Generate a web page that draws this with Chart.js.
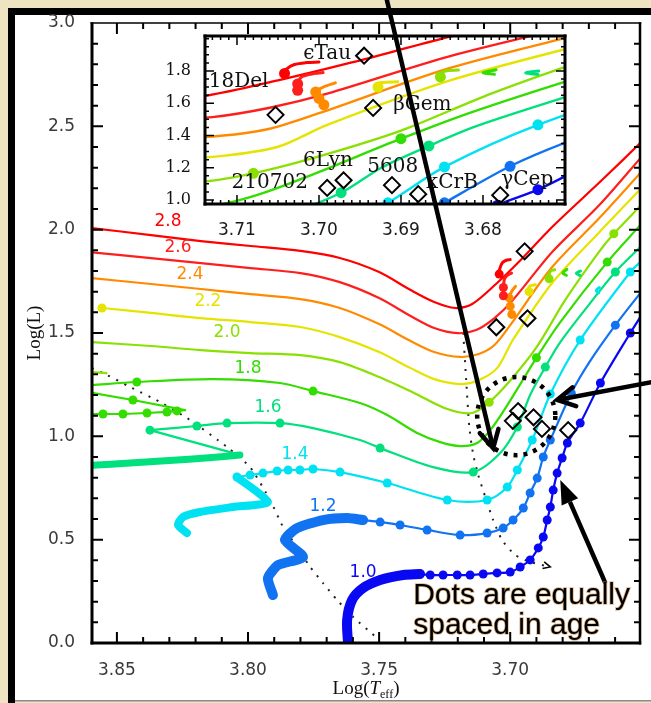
<!DOCTYPE html>
<html>
<head>
<meta charset="utf-8">
<title>Evolutionary tracks</title>
<script src="https://cdn.jsdelivr.net/npm/chart.js@4.4.1/dist/chart.umd.min.js"></script>
<style>
  html, body { margin: 0; padding: 0; background: #efe4c1; }
  #stage { position: relative; width: 651px; height: 703px; overflow: hidden; }
  #stage canvas { position: absolute; left: 0; top: 0; }
  #zoomChart { pointer-events: none; }
</style>
</head>
<body>
<div id="stage">
  <canvas id="hrChart" width="651" height="703"></canvas>
  <canvas id="zoomChart" width="651" height="703"></canvas>
</div>
<script>
// ---------- axes ----------
const X_RANGE = [3.6505, 3.8595];          // log Teff, hot side on the left
const Y_RANGE = [0.0, 3.0];                // log L
const xTickValues = [3.85, 3.80, 3.75, 3.70];
const yTickValues = [0.0, 0.5, 1.0, 1.5, 2.0, 2.5, 3.0];

const ZOOM_X_RANGE = [3.6700, 3.7139];
const ZOOM_Y_RANGE = [0.975, 2.017];
const zoomXTickValues = [3.71, 3.70, 3.69, 3.68];
const zoomYTickValues = [1.0, 1.2, 1.4, 1.6, 1.8];

// ---------- tracks: [log Teff, log L] ----------
const masses = ['2.8', '2.6', '2.4', '2.2', '2.0', '1.8', '1.6', '1.4', '1.2', '1.0'];
const massColors = ['#ff0000', '#ff1e1e', '#ff8a00', '#e4e400', '#8ae000', '#33dd00', '#00e07c', '#00e2f2', '#1173f2', '#0808f2'];

const track28 = [[3.860,2.008],[3.837,1.974],[3.818,1.945],[3.799,1.921],[3.780,1.897],[3.765,1.863],[3.750,1.795],[3.738,1.708],[3.729,1.650],[3.721,1.621],[3.7145,1.640],[3.705,1.742],[3.696,1.853],[3.684,2.013],[3.665,2.240],[3.650,2.424]];
const track26 = [[3.860,1.891],[3.837,1.862],[3.818,1.838],[3.799,1.814],[3.780,1.790],[3.765,1.746],[3.750,1.669],[3.738,1.582],[3.729,1.524],[3.720,1.499],[3.713,1.514],[3.706,1.572],[3.699,1.659],[3.684,1.892],[3.666,2.119],[3.650,2.351]];
const track24 = [[3.860,1.766],[3.837,1.737],[3.818,1.713],[3.799,1.688],[3.780,1.664],[3.765,1.621],[3.750,1.543],[3.738,1.461],[3.729,1.408],[3.719,1.384],[3.712,1.398],[3.706,1.442],[3.700,1.538],[3.684,1.819],[3.666,2.056],[3.650,2.279]];
const track22 = [[3.8557,1.621],[3.837,1.597],[3.818,1.572],[3.799,1.553],[3.780,1.529],[3.765,1.480],[3.750,1.408],[3.738,1.330],[3.729,1.277],[3.719,1.253],[3.712,1.272],[3.705,1.330],[3.699,1.466],[3.684,1.742],[3.666,1.988],[3.650,2.200]];
const track20 = [[3.860,1.456],[3.837,1.437],[3.818,1.417],[3.799,1.403],[3.780,1.393],[3.765,1.359],[3.750,1.287],[3.7365,1.209],[3.724,1.132],[3.7145,1.113],[3.708,1.165],[3.700,1.270],[3.690,1.430],[3.679,1.660],[3.666,1.895],[3.6605,1.980],[3.650,2.120]];
const track18 = [[3.8595,1.248],[3.8424,1.263],[3.8134,1.277],[3.7878,1.258],[3.7752,1.219],[3.7573,1.161],[3.7469,1.103],[3.7355,1.016],[3.7267,0.972],[3.7191,0.953],[3.7126,0.968],[3.7076,1.030],[3.7011,1.151],[3.690,1.380],[3.6809,1.553],[3.663,1.843],[3.6504,2.022]];
const track16 = [[3.8374,1.030],[3.8195,1.050],[3.8080,1.064],[3.7878,1.064],[3.7752,1.040],[3.7573,0.982],[3.7496,0.943],[3.7294,0.851],[3.7141,0.827],[3.7038,0.919],[3.6973,1.045],[3.6924,1.200],[3.6866,1.335],[3.6809,1.456],[3.6698,1.640],[3.6599,1.795],[3.6504,1.916]];
const track14 = [[3.8042,0.803],[3.7992,0.813],[3.7943,0.822],[3.7889,0.832],[3.7847,0.837],[3.7802,0.837],[3.7752,0.842],[3.7649,0.827],[3.7469,0.774],[3.7240,0.692],[3.7088,0.692],[3.7011,0.755],[3.6973,0.837],[3.6916,0.982],[3.6847,1.205],[3.6733,1.466],[3.6542,1.795],[3.6504,1.843]];
const track12 = [[3.7561,0.595],[3.7496,0.585],[3.7420,0.571],[3.7317,0.547],[3.7191,0.522],[3.7088,0.532],[3.7027,0.556],[3.6989,0.595],[3.6950,0.653],[3.6924,0.726],[3.6897,0.798],[3.6874,0.900],[3.6847,0.982],[3.6767,1.209],[3.6698,1.359],[3.6599,1.538],[3.6504,1.693]];
const track10 = [[3.7344,0.334],[3.7305,0.329],[3.7256,0.329],[3.7202,0.329],[3.7153,0.329],[3.7103,0.334],[3.7050,0.339],[3.7000,0.343],[3.6962,0.368],[3.6924,0.402],[3.6893,0.460],[3.6874,0.513],[3.6859,0.595],[3.6847,0.658],[3.6836,0.740],[3.6821,0.822],[3.6802,0.895],[3.6782,0.968],[3.6733,1.064],[3.6656,1.258],[3.6542,1.500],[3.6504,1.577]];

// which vertices carry an age marker
const dots28 = [];
const dots26 = [];
const dots24 = [];
const dots22 = [0];
const dots20 = [10, 15];
const dots18 = [1, 4, 13, 15];
const dots16 = [0, 1, 2, 3, 6, 8, 10, 12, 15];
const dots14 = [0, 1, 2, 3, 4, 5, 6, 7, 8, 9, 10, 11, 12, 13, 14, 15, 16];
const dots12 = [0, 1, 2, 3, 4, 5, 6, 7, 8, 9, 10, 11, 12, 13, 15];
const dots10 = [0, 1, 2, 3, 4, 5, 6, 7, 8, 9, 10, 11, 12, 13, 14, 15, 16, 17, 18, 19, 20];

// pre-main-sequence pieces (densely sampled parts drawn as thick bands)
const stub20 = [[3.8595,1.311],[3.8540,1.306]];
const row18  = [[3.8595,1.108],[3.8553,1.108],[3.8477,1.108],[3.8385,1.113],[3.8309,1.118],[3.8271,1.123],[3.8240,1.127]];
const hook18 = [[3.8240,1.127],[3.8439,1.176],[3.8595,1.210]];
const band16 = [[3.8595,0.860],[3.845,0.871],[3.830,0.883],[3.815,0.896],[3.8031,0.910]];
const hook16 = [[3.8031,0.910],[3.8374,1.030]];
const band14 = [[3.8233,0.532],[3.8267,0.571],[3.8248,0.610],[3.8183,0.634],[3.8057,0.658],[3.7924,0.682],[3.8042,0.803]];
const band12 = [[3.7905,0.232],[3.7924,0.314],[3.7885,0.377],[3.7790,0.416],[3.7859,0.498],[3.7813,0.556],[3.7714,0.595],[3.7622,0.605],[3.7561,0.595]];
const band10 = [[3.7618,-0.010],[3.7622,0.111],[3.7603,0.208],[3.7561,0.266],[3.7496,0.305],[3.7408,0.329],[3.7344,0.334]];

// core helium burning loops
const clump28 = [[3.7042,1.785],[3.7040,1.810],[3.7030,1.840],[3.7015,1.852],[3.7000,1.855]];
const clump26 = [[3.7026,1.680],[3.7026,1.720],[3.7022,1.760],[3.7010,1.780],[3.6995,1.790]];
const clump24 = [[3.6994,1.590],[3.7000,1.630],[3.7004,1.670],[3.6995,1.700],[3.6980,1.726]];
const clump22 = [[3.6928,1.700],[3.6930,1.716],[3.6924,1.728],[3.6904,1.733]];
const clump20 = [[3.6852,1.763],[3.6852,1.780],[3.6846,1.800],[3.6830,1.806]];
const clump18 = [[3.6784,1.808],[3.6800,1.790],[3.6786,1.779]];
const clump16 = [[3.6732,1.800],[3.6748,1.789],[3.6733,1.778]];
const clump14 = [[3.6660,1.720],[3.6672,1.705],[3.6662,1.695]];

// dotted boundary lines
const dottedHot  = [[3.8595,1.330],[3.8538,1.297],[3.8450,1.239],[3.8336,1.166],[3.8221,1.079],[3.8080,0.948],[3.7992,0.851],[3.7916,0.692],[3.7866,0.561],[3.7813,0.464],[3.7763,0.368],[3.7714,0.290],[3.7660,0.208],[3.7599,0.126],[3.7508,0.024]];
const dottedCool = [[3.7179,1.500],[3.7168,1.272],[3.7156,1.045],[3.7141,0.910],[3.7122,0.813],[3.7095,0.706],[3.7065,0.595],[3.7031,0.498],[3.6981,0.426],[3.6924,0.392],[3.6847,0.368]];

// observed giants
const starNames = ['ϵTau', '18Del', 'βGem', '210702', '6Lyn', '5608', 'κCrB', 'γCep'];
const starTeff  = [3.6945, 3.7053, 3.6934, 3.6990, 3.6970, 3.6911, 3.6879, 3.6779];
const starLum   = [1.895, 1.528, 1.571, 1.075, 1.122, 1.092, 1.036, 1.030];
const starLabelTeff = [3.6990, 3.7098, 3.6874, 3.7060, 3.6989, 3.6910, 3.6838, 3.6746];
const starLabelLum  = [1.905, 1.732, 1.589, 1.105, 1.242, 1.205, 1.105, 1.124];

// mass labels
const massLabelTeff = [3.8305, 3.8267, 3.8221, 3.8153, 3.8080, 3.8000, 3.7924, 3.7821, 3.7714, 3.7561];
const massLabelLum  = [2.037, 1.911, 1.785, 1.650, 1.500, 1.330, 1.137, 0.910, 0.658, 0.343];

// annotations
const arrowFrom = [[3.7473, 3.125], [3.6458, 1.263], [3.6637, 0.290]];
const arrowTo   = [[3.7065, 0.943], [3.6821, 1.176], [3.6809, 0.789]];
const arrowHead = ['open', 'open', 'solid'];
const circleCenter = [3.6977, 1.098];
const circleRadius = 0.0149;               // in log Teff
const noteLines = ['Dots are equally', 'spaced in age'];
const noteAt = [[3.737, 0.189], [3.737, 0.044]];

// ---------- helpers ----------
const pts = arr => arr.map(([x, y]) => ({ x, y }));
function steps(lo, hi, step) {
  const out = [];
  for (let v = lo; v <= hi + 1e-9; v += step) out.push(+v.toFixed(4));
  return out;
}

function lineSet(data, color, width, dotIdx, dotR, tension) {
  return {
    data: pts(data),
    showLine: true,
    borderColor: color,
    backgroundColor: color,
    pointBackgroundColor: color,
    borderWidth: width,
    tension: tension,
    pointRadius: ctx => dotIdx.includes(ctx.dataIndex) ? dotR : 0,
    pointHoverRadius: 0,
    pointBorderWidth: 0,
    borderCapStyle: 'round',
    borderJoinStyle: 'round',
    clip: 0
  };
}

function starSet(r) {
  return {
    data: starTeff.map((t, i) => ({ x: t, y: starLum[i] })),
    showLine: false,
    pointStyle: 'rectRot',
    pointRadius: r,
    pointHoverRadius: r,
    pointBorderColor: '#000',
    pointBackgroundColor: 'rgba(0,0,0,0)',
    pointBorderWidth: 2,
    clip: 0
  };
}

const tracks = [track28, track26, track24, track22, track20, track18, track16, track14, track12, track10];
const trackDots = [dots28, dots26, dots24, dots22, dots20, dots18, dots16, dots14, dots12, dots10];
const clumps = [clump28, clump26, clump24, clump22, clump20, clump18, clump16, clump14];
const clumpDots = [[0], [0, 1], [0, 1, 2], [0], [0], [], [], []];

function giantSets(lineW, dotR) {
  const sets = [starSet(8)];
  clumps.forEach((c, i) => sets.push(lineSet(c, massColors[i], 3, clumpDots[i], dotR, 0.3)));
  tracks.forEach((t, i) => sets.push(lineSet(t, massColors[i], lineW, trackDots[i], dotR, 0.3)));
  return sets;
}

const mainSets = giantSets(2.2, 4.5);
mainSets.push(
  lineSet(stub20, massColors[4], 2.2, [], 0, 0),
  lineSet(row18, massColors[5], 2.2, [1, 2, 3, 4, 5], 4.5, 0),
  lineSet(hook18, massColors[5], 2.2, [1], 4.5, 0),
  lineSet(hook16, massColors[6], 2.2, [], 0, 0),
  lineSet(band16, massColors[6], 7, [], 0, 0.2),
  lineSet(band14, massColors[7], 8, [], 0, 0.2),
  lineSet(band12, massColors[8], 10, [], 0, 0.2),
  lineSet(band10, massColors[9], 10, [], 0, 0.3)
);
[dottedHot, dottedCool].forEach(d => {
  const s = lineSet(d, '#222', 2, [], 0, 0.2);
  s.borderDash = [2, 7];
  s.borderCapStyle = 'butt';
  mainSets.push(s);
});

// ---------- plugins ----------
const panel = {
  id: 'panel',
  beforeDraw(chart) {
    const ctx = chart.ctx;
    ctx.save();
    ctx.fillStyle = '#efe4c1';
    ctx.fillRect(0, 0, chart.width, chart.height);
    ctx.fillStyle = '#000';
    ctx.fillRect(8, 8, chart.width - 8, 7);
    ctx.fillRect(8, 8, 7, chart.height - 8);
    ctx.fillStyle = '#fff';
    ctx.fillRect(15, 15, chart.width - 15, chart.height - 18);
    ctx.fillStyle = '#8a8a8a';
    ctx.fillRect(15, chart.height - 3, chart.width - 15, 1.5);
    ctx.restore();
  }
};

const whiteBox = {
  id: 'whiteBox',
  beforeDraw(chart) {
    const { ctx, chartArea: a } = chart;
    ctx.save();
    ctx.fillStyle = '#fff';
    ctx.fillRect(a.left, a.top, a.right - a.left, a.bottom - a.top);
    ctx.restore();
  }
};

const axisBox = {
  id: 'axisBox',
  afterDatasetsDraw(chart, _args, o) {
    const { ctx, chartArea: a, scales: { x, y } } = chart;
    ctx.save();
    ctx.strokeStyle = '#000';
    ctx.lineWidth = o.tickWidth;
    ctx.beginPath();
    const xt = (v, len) => {
      const p = x.getPixelForValue(v);
      ctx.moveTo(p, a.bottom); ctx.lineTo(p, a.bottom - len);
      ctx.moveTo(p, a.top); ctx.lineTo(p, a.top + len);
    };
    const yt = (v, len) => {
      const p = y.getPixelForValue(v);
      ctx.moveTo(a.left, p); ctx.lineTo(a.left + len, p);
      ctx.moveTo(a.right, p); ctx.lineTo(a.right - len, p);
    };
    o.xMinor.forEach(v => xt(v, o.minorLen));
    o.xMajor.forEach(v => xt(v, o.majorLen));
    o.yMinor.forEach(v => yt(v, o.minorLen));
    o.yMajor.forEach(v => yt(v, o.majorLen));
    ctx.stroke();
    const side = (w, x0, y0, x1, y1) => {
      ctx.lineWidth = w;
      ctx.beginPath(); ctx.moveTo(x0, y0); ctx.lineTo(x1, y1); ctx.stroke();
    };
    const [wl, wb, wt, wr] = o.sides;
    side(wl, a.left, a.top - wt / 2, a.left, a.bottom + wb / 2);
    side(wb, a.left - wl / 2, a.bottom, a.right + wr / 2, a.bottom);
    side(wt, a.left - wl / 2, a.top, a.right + wr / 2, a.top);
    side(wr, a.right, a.top - wt / 2, a.right, a.bottom + wb / 2);
    ctx.restore();
  }
};

const mainText = {
  id: 'mainText',
  afterDatasetsDraw(chart) {
    const { ctx, chartArea: a, scales: { x, y } } = chart;
    ctx.save();
    ctx.textAlign = 'center';
    ctx.textBaseline = 'middle';
    ctx.font = '17px "DejaVu Sans"';
    masses.forEach((m, i) => {
      ctx.fillStyle = massColors[i];
      ctx.fillText(m, x.getPixelForValue(massLabelTeff[i]), y.getPixelForValue(massLabelLum[i]));
    });
    // axis titles
    ctx.fillStyle = '#111';
    ctx.font = '19px "Liberation Serif"';
    ctx.save();
    ctx.translate(35, (a.top + a.bottom) / 2);
    ctx.rotate(-Math.PI / 2);
    ctx.fillText('Log(L)', 0, 0);
    ctx.restore();
    const parts = [
      ['Log(', '19px "Liberation Serif"', 0],
      ['T', 'italic 19px "Liberation Serif"', 0],
      ['eff', '12px "Liberation Serif"', 4],
      [')', '19px "Liberation Serif"', 0]
    ];
    let total = 0;
    parts.forEach(p => { ctx.font = p[1]; total += ctx.measureText(p[0]).width; });
    let cx = (a.left + a.right) / 2 - total / 2;
    ctx.textAlign = 'left';
    ctx.textBaseline = 'alphabetic';
    parts.forEach(p => {
      ctx.font = p[1];
      ctx.fillText(p[0], cx, 694 + p[2]);
      cx += ctx.measureText(p[0]).width;
    });
    ctx.restore();
  }
};

const starLabels = {
  id: 'starLabels',
  afterDatasetsDraw(chart) {
    const { ctx, scales: { x, y } } = chart;
    ctx.save();
    ctx.fillStyle = '#111';
    ctx.font = '20px "DejaVu Serif"';
    ctx.textAlign = 'center';
    ctx.textBaseline = 'middle';
    starNames.forEach((n, i) => {
      ctx.fillText(n, x.getPixelForValue(starLabelTeff[i]), y.getPixelForValue(starLabelLum[i]));
    });
    ctx.restore();
  }
};

let hr = null;

// arrows, ring and note sit above both panels
const notes = {
  id: 'notes',
  afterDraw(chart) {
    const ctx = chart.ctx;
    const sx = hr.scales.x, sy = hr.scales.y;
    const P = ([t, l]) => [sx.getPixelForValue(t), sy.getPixelForValue(l)];
    ctx.save();
    ctx.strokeStyle = '#000';
    ctx.fillStyle = '#000';

    arrowFrom.forEach((f, i) => {
      const [x0, y0] = P(f);
      const [x1, y1] = P(arrowTo[i]);
      const ang = Math.atan2(y1 - y0, x1 - x0);
      ctx.lineWidth = 4.5;
      ctx.lineCap = 'butt';
      if (arrowHead[i] === 'solid') {
        const len = 24, half = 9;
        const bx = x1 - len * Math.cos(ang), by = y1 - len * Math.sin(ang);
        ctx.beginPath(); ctx.moveTo(x0, y0); ctx.lineTo(bx, by); ctx.stroke();
        ctx.beginPath();
        ctx.moveTo(x1, y1);
        ctx.lineTo(bx + half * Math.sin(ang), by - half * Math.cos(ang));
        ctx.lineTo(bx - half * Math.sin(ang), by + half * Math.cos(ang));
        ctx.closePath(); ctx.fill();
      } else {
        ctx.beginPath(); ctx.moveTo(x0, y0); ctx.lineTo(x1, y1); ctx.stroke();
        const arm = 20, spread = 0.5;
        ctx.lineCap = 'round';
        ctx.beginPath();
        ctx.moveTo(x1 - arm * Math.cos(ang - spread), y1 - arm * Math.sin(ang - spread));
        ctx.lineTo(x1, y1);
        ctx.lineTo(x1 - arm * Math.cos(ang + spread), y1 - arm * Math.sin(ang + spread));
        ctx.stroke();
      }
    });

    // small head at the end of the cool dotted line
    const n = dottedCool.length;
    const [ax, ay] = P(dottedCool[n - 1]);
    const [px, py] = P(dottedCool[n - 2]);
    const a2 = Math.atan2(ay - py, ax - px);
    ctx.lineWidth = 1.5;
    ctx.beginPath();
    ctx.moveTo(ax - 8 * Math.cos(a2 - 0.45), ay - 8 * Math.sin(a2 - 0.45));
    ctx.lineTo(ax, ay);
    ctx.lineTo(ax - 8 * Math.cos(a2 + 0.45), ay - 8 * Math.sin(a2 + 0.45));
    ctx.stroke();

    // dotted ring around the giants
    const [cx, cy] = P(circleCenter);
    const r = Math.abs(sx.getPixelForValue(circleCenter[0] - circleRadius) - cx);
    ctx.lineWidth = 4.5;
    ctx.setLineDash([4, 6]);
    ctx.lineCap = 'butt';
    ctx.beginPath();
    ctx.arc(cx, cy, r, 0, Math.PI * 2);
    ctx.stroke();
    ctx.setLineDash([]);

    // note
    ctx.font = '30px "Liberation Sans"';
    ctx.textAlign = 'left';
    ctx.textBaseline = 'alphabetic';
    noteLines.forEach((t, i) => {
      const [tx, ty] = P(noteAt[i]);
      ctx.lineWidth = 1.6;
      ctx.strokeStyle = 'rgba(190,120,50,0.55)';
      ctx.strokeText(t, tx, ty);
      ctx.fillStyle = '#000';
      ctx.fillText(t, tx, ty);
    });
    ctx.restore();
  }
};

// ---------- main diagram ----------
hr = new Chart(document.getElementById('hrChart'), {
  type: 'scatter',
  data: { datasets: mainSets },
  options: {
    responsive: false,
    animation: false,
    devicePixelRatio: 1,
    events: [],
    layout: { padding: { left: 15, top: 23, right: 11, bottom: 0 } },
    elements: { line: { capBezierPoints: false } },
    plugins: {
      legend: { display: false },
      tooltip: { enabled: false },
      axisBox: {
        tickWidth: 2, majorLen: 11, minorLen: 6, sides: [3, 3, 1.5, 2.5],
        xMajor: [3.85, 3.80, 3.75, 3.70], xMinor: steps(3.66, 3.85, 0.01),
        yMajor: [0.5, 1.0, 1.5, 2.0, 2.5], yMinor: steps(0.1, 2.9, 0.1)
      }
    },
    scales: {
      x: {
        type: 'linear', reverse: true, min: X_RANGE[0], max: X_RANGE[1],
        grid: { display: false }, border: { display: false },
        afterBuildTicks: s => { s.ticks = xTickValues.map(v => ({ value: v })); },
        afterFit: s => { s.height = 60; },
        ticks: {
          autoSkip: false, maxRotation: 0, padding: 9, color: '#3a3a3a',
          font: { family: 'DejaVu Sans', size: 17 },
          callback: v => v.toFixed(2)
        }
      },
      y: {
        type: 'linear', min: Y_RANGE[0], max: Y_RANGE[1],
        grid: { display: false }, border: { display: false },
        afterBuildTicks: s => { s.ticks = yTickValues.map(v => ({ value: v })); },
        afterFit: s => { s.width = 77; },
        ticks: {
          autoSkip: false, padding: 9, color: '#3a3a3a',
          font: { family: 'DejaVu Sans', size: 17 },
          callback: v => v.toFixed(1)
        }
      }
    }
  },
  plugins: [panel, axisBox, mainText]
});

// ---------- zoom on the giant branch ----------
new Chart(document.getElementById('zoomChart'), {
  type: 'scatter',
  data: { datasets: giantSets(2.4, 5.5) },
  options: {
    responsive: false,
    animation: false,
    devicePixelRatio: 1,
    events: [],
    layout: { padding: { left: 165, top: 36, right: 86, bottom: 459 } },
    elements: { line: { capBezierPoints: false } },
    plugins: {
      legend: { display: false },
      tooltip: { enabled: false },
      axisBox: {
        tickWidth: 1.5, majorLen: 9, minorLen: 4, sides: [3, 3, 3, 3],
        xMajor: zoomXTickValues, xMinor: steps(3.671, 3.713, 0.001),
        yMajor: zoomYTickValues, yMinor: steps(1.0, 2.0, 0.05)
      }
    },
    scales: {
      x: {
        type: 'linear', reverse: true, min: ZOOM_X_RANGE[0], max: ZOOM_X_RANGE[1],
        grid: { display: false }, border: { display: false },
        afterBuildTicks: s => { s.ticks = zoomXTickValues.map(v => ({ value: v })); },
        afterFit: s => { s.height = 40; },
        ticks: {
          autoSkip: false, maxRotation: 0, padding: 8, color: '#1a1a1a',
          font: { family: 'DejaVu Sans', size: 17 },
          callback: v => v.toFixed(2)
        }
      },
      y: {
        type: 'linear', min: ZOOM_Y_RANGE[0], max: ZOOM_Y_RANGE[1],
        grid: { display: false }, border: { display: false },
        afterBuildTicks: s => { s.ticks = zoomYTickValues.map(v => ({ value: v })); },
        afterFit: s => { s.width = 40; },
        ticks: {
          autoSkip: false, padding: 6, color: '#111',
          font: { family: 'DejaVu Serif', size: 16 },
          callback: v => v.toFixed(1)
        }
      }
    }
  },
  plugins: [whiteBox, axisBox, starLabels, notes]
});
</script>
</body>
</html>
